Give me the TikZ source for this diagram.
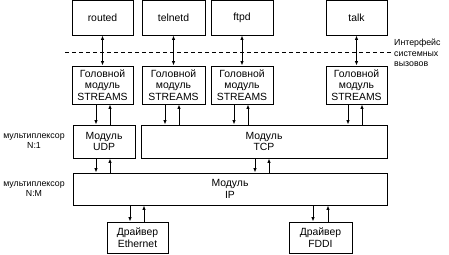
\documentclass[tikz,border=0pt]{standalone}
\usepackage{fontspec}
\setmainfont{Liberation Sans}
\usetikzlibrary{arrows.meta}
\begin{document}
\begin{tikzpicture}[x=1pt,y=-1pt,
  box/.style={draw, line width=0.9pt, inner sep=0pt, align=center,
    font=\fontsize{10.4}{11.5}\selectfont},
  lbl/.style={inner sep=0pt, align=center, font=\fontsize{8.8}{9.5}\selectfont},
  arr/.style={line width=0.9pt, -{Latex[length=4.5pt,width=3.5pt]}},
  darr/.style={line width=0.9pt, {Latex[length=4.5pt,width=3.5pt]}-{Latex[length=4.5pt,width=3.5pt]}}]
\useasboundingbox (0,0) rectangle (449,254);
% top applications
\node[box, minimum width=61pt, minimum height=34.5pt] (routed) at (102.5,17.75) {routed};
\node[box, minimum width=63pt, minimum height=34.5pt] (telnetd) at (173.5,17.75) {telnetd};
\node[box, minimum width=62pt, minimum height=34.5pt] (ftpd) at (242,17.75) {ftpd};
\node[box, minimum width=61pt, minimum height=34.5pt] (talk) at (356.5,17.75) {talk};
% stream heads
\node[box, minimum width=61pt, minimum height=38pt] (s1) at (102.5,85) {Головной\\модуль\\STREAMS};
\node[box, minimum width=63pt, minimum height=38pt] (s2) at (173.5,85) {Головной\\модуль\\STREAMS};
\node[box, minimum width=62pt, minimum height=38pt] (s3) at (242,85) {Головной\\модуль\\STREAMS};
\node[box, minimum width=61pt, minimum height=38pt] (s4) at (356.5,85) {Головной\\модуль\\STREAMS};
% transport
\node[box, minimum width=62pt, minimum height=33pt] (udp) at (104,141.5) {Модуль\\UDP};
\node[box, minimum width=246pt, minimum height=33pt] (tcp) at (264,141.5) {Модуль\\TCP};
\node[box, minimum width=314pt, minimum height=32pt] (ip) at (230,189) {Модуль\\IP};
% drivers
\node[box, minimum width=61pt, minimum height=31pt] (eth) at (137.5,237.5) {Драйвер\\Ethernet};
\node[box, minimum width=63pt, minimum height=31pt] (fddi) at (320.5,237.5) {Драйвер\\FDDI};
% dashed interface line
\coordinate (dl) at (65,52);
\coordinate (dr) at (391,52);
\draw[line width=0.9pt, dash pattern=on 4pt off 3pt] (dl) -- (dr);
\node[lbl, align=left, anchor=west, font=\fontsize{8.8}{10.5}\selectfont] (iface) at (394,53) {Интерфейс\\системных\\вызовов};
% left labels
\node[lbl] (m1) at (34,141) {мультиплексор\\N:1};
\node[lbl] (m2) at (34,189) {мультиплексор\\N:M};
% double arrows
\draw[darr] (routed) -- (s1);
\draw[darr] (telnetd) -- (s2);
\draw[darr] (ftpd) -- (s3);
\draw[darr] (talk) -- (s4);
% streams to transport
\draw[arr] (s1.south -| 96,0) -- (udp.north -| 96,0);
\draw[arr] (udp.north -| 110,0) -- (s1.south -| 110,0);
\draw[arr] (s2.south -| 165,0) -- (tcp.north -| 165,0);
\draw[arr] (tcp.north -| 179,0) -- (s2.south -| 179,0);
\draw[arr] (s3.south -| 234,0) -- (tcp.north -| 234,0);
\draw[arr] (tcp.north -| 248,0) -- (s3.south -| 248,0);
\draw[arr] (s4.south -| 348,0) -- (tcp.north -| 348,0);
\draw[arr] (tcp.north -| 362,0) -- (s4.south -| 362,0);
% transport to ip
\draw[arr] (udp.south -| 96,0) -- (ip.north -| 96,0);
\draw[arr] (ip.north -| 110,0) -- (udp.south -| 110,0);
\draw[arr] (tcp.south -| 255,0) -- (ip.north -| 255,0);
\draw[arr] (ip.north -| 269,0) -- (tcp.south -| 269,0);
% ip to drivers
\draw[arr] (ip.south -| 130,0) -- (eth.north -| 130,0);
\draw[arr] (eth.north -| 144,0) -- (ip.south -| 144,0);
\draw[arr] (ip.south -| 313,0) -- (fddi.north -| 313,0);
\draw[arr] (fddi.north -| 328,0) -- (ip.south -| 328,0);
\end{tikzpicture}
\end{document}
